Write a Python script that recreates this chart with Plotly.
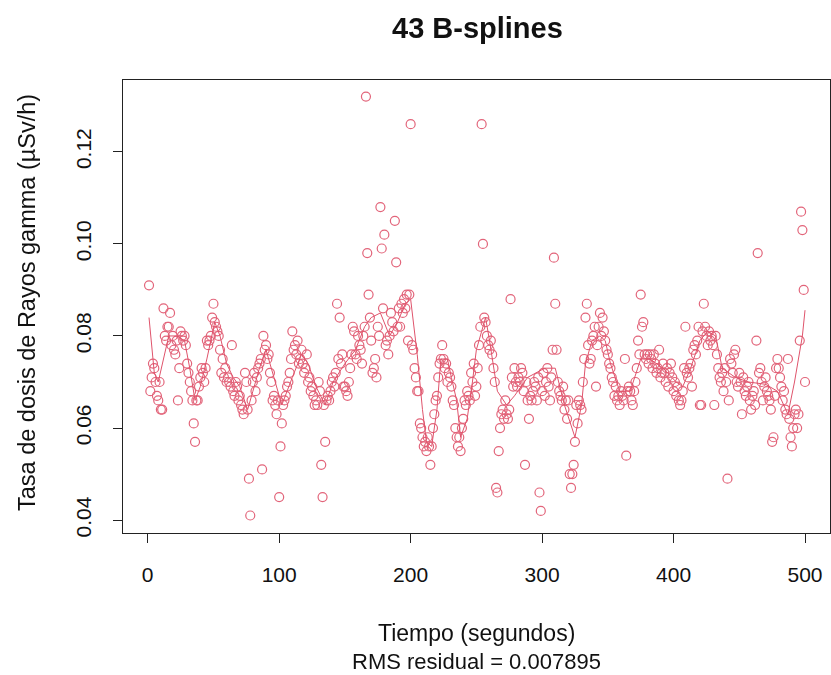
import plotly.graph_objects as go

# ---- data ----
tiempo = list(range(1, 501))
tasa = [
    0.091, 0.068, 0.071, 0.074, 0.073, 0.070, 0.067, 0.066, 0.070, 0.064,
    0.064, 0.086, 0.080, 0.079, 0.082, 0.082, 0.085, 0.078, 0.080, 0.077,
    0.076, 0.079, 0.066, 0.073, 0.081, 0.080, 0.079, 0.080, 0.078, 0.074,
    0.072, 0.070, 0.068, 0.066, 0.061, 0.057, 0.066, 0.066, 0.069, 0.071,
    0.073, 0.072, 0.070, 0.073, 0.079, 0.078, 0.079, 0.080, 0.084, 0.087,
    0.083, 0.082, 0.081, 0.080, 0.077, 0.072, 0.075, 0.071, 0.073, 0.070,
    0.071, 0.070, 0.069, 0.078, 0.068, 0.067, 0.070, 0.069, 0.066, 0.067,
    0.065, 0.064, 0.063, 0.072, 0.070, 0.064, 0.049, 0.041, 0.066, 0.070,
    0.072, 0.068, 0.071, 0.073, 0.074, 0.075, 0.051, 0.080, 0.077, 0.078,
    0.075, 0.076, 0.072, 0.070, 0.066, 0.067, 0.065, 0.063, 0.066, 0.045,
    0.056, 0.061, 0.065, 0.066, 0.067, 0.069, 0.070, 0.072, 0.075, 0.081,
    0.077, 0.078, 0.076, 0.079, 0.074, 0.075, 0.077, 0.074, 0.072, 0.073,
    0.076, 0.070, 0.071, 0.068, 0.069, 0.067, 0.065, 0.066, 0.065, 0.070,
    0.068, 0.052, 0.045, 0.065, 0.057, 0.066, 0.067, 0.066, 0.068, 0.070,
    0.071, 0.069, 0.072, 0.087, 0.075, 0.084, 0.074, 0.076, 0.069, 0.069,
    0.068, 0.067, 0.070, 0.073, 0.076, 0.082, 0.081, 0.076, 0.075, 0.080,
    0.078, 0.077, 0.074, 0.080, 0.082, 0.132, 0.098, 0.089, 0.084, 0.079,
    0.072, 0.073, 0.075, 0.071, 0.082, 0.080, 0.108, 0.099, 0.086, 0.102,
    0.078, 0.079, 0.076, 0.080, 0.085, 0.083, 0.081, 0.105, 0.096, 0.082,
    0.086, 0.082, 0.087, 0.085, 0.088, 0.086, 0.089, 0.079, 0.089, 0.126,
    0.078, 0.077, 0.073, 0.071, 0.068, 0.068, 0.061, 0.060, 0.058, 0.056,
    0.057, 0.055, 0.058, 0.056, 0.052, 0.056, 0.060, 0.063, 0.066, 0.067,
    0.071, 0.074, 0.075, 0.078, 0.075, 0.073, 0.074, 0.070, 0.072, 0.071,
    0.069, 0.066, 0.065, 0.060, 0.058, 0.056, 0.058, 0.055, 0.060, 0.062,
    0.066, 0.065, 0.068, 0.067, 0.066, 0.072, 0.070, 0.074, 0.067, 0.069,
    0.073, 0.078, 0.082, 0.126, 0.100, 0.084, 0.083, 0.080, 0.078, 0.077,
    0.079, 0.076, 0.073, 0.070, 0.047, 0.046, 0.055, 0.060, 0.063, 0.064,
    0.062, 0.066, 0.063, 0.062, 0.064, 0.088, 0.071, 0.069, 0.073, 0.070,
    0.069, 0.071, 0.070, 0.073, 0.072, 0.068, 0.052, 0.070, 0.066, 0.062,
    0.067, 0.066, 0.068, 0.070, 0.069, 0.066, 0.071, 0.046, 0.042, 0.068,
    0.072, 0.067, 0.070, 0.073, 0.069, 0.066, 0.071, 0.077, 0.097, 0.087,
    0.077, 0.070, 0.068, 0.067, 0.066, 0.069, 0.064, 0.066, 0.062, 0.066,
    0.050, 0.047, 0.050, 0.052, 0.057, 0.065, 0.061, 0.066, 0.065, 0.064,
    0.070, 0.075, 0.084, 0.087, 0.078, 0.074, 0.075, 0.079, 0.080, 0.082,
    0.069, 0.078, 0.082, 0.085, 0.080, 0.084, 0.081, 0.079, 0.077, 0.076,
    0.074, 0.073, 0.071, 0.070, 0.067, 0.069, 0.066, 0.067, 0.065, 0.068,
    0.067, 0.066, 0.075, 0.054, 0.068, 0.069, 0.068, 0.066, 0.065, 0.068,
    0.070, 0.073, 0.079, 0.076, 0.089, 0.082, 0.083, 0.076, 0.075, 0.076,
    0.074, 0.076, 0.075, 0.073, 0.076, 0.074, 0.072, 0.073, 0.077, 0.071,
    0.072, 0.074, 0.072, 0.070, 0.073, 0.069, 0.072, 0.074, 0.071, 0.068,
    0.070, 0.067, 0.069, 0.066, 0.065, 0.066, 0.068, 0.073, 0.082, 0.072,
    0.071, 0.073, 0.074, 0.069, 0.077, 0.078, 0.076, 0.079, 0.082, 0.065,
    0.065, 0.081, 0.087, 0.082, 0.080, 0.078, 0.081, 0.079, 0.080, 0.078,
    0.065, 0.080, 0.076, 0.073, 0.071, 0.070, 0.072, 0.068, 0.073, 0.070,
    0.049, 0.066, 0.075, 0.074, 0.072, 0.076, 0.077, 0.070, 0.069, 0.072,
    0.070, 0.063, 0.071, 0.068, 0.067, 0.069, 0.070, 0.066, 0.064, 0.067,
    0.068, 0.065, 0.079, 0.098, 0.072, 0.073, 0.070, 0.066, 0.069, 0.071,
    0.068, 0.067, 0.066, 0.064, 0.057, 0.058, 0.067, 0.073, 0.075, 0.073,
    0.071, 0.069, 0.066, 0.068, 0.064, 0.063, 0.075, 0.062, 0.058, 0.056,
    0.060, 0.063, 0.064, 0.060, 0.063, 0.079, 0.107, 0.103, 0.090, 0.070,
]

# fitted B-spline curve
ajuste_t = [1, 5, 8, 12, 16, 22, 28, 32, 36, 40, 45, 51, 55, 60, 65, 70, 76, 80,
            85, 90, 96, 102, 110, 117, 122, 128, 135, 141, 150, 158, 165, 170, 177,
            184, 190, 196, 200, 205, 209, 212, 216, 220, 223, 228, 231, 235, 238,
            243, 247, 250, 254, 257, 260, 266, 273, 279, 289, 302, 310, 317, 325,
            330, 333, 338, 344, 348, 352, 359, 367, 375, 382, 392, 402, 407, 413,
            420, 426, 432, 437, 447, 457, 470, 479, 487, 492, 498, 500]
ajuste_y = [0.084, 0.072, 0.070, 0.075, 0.080, 0.080, 0.079, 0.073, 0.066, 0.069,
            0.075, 0.083, 0.080, 0.074, 0.071, 0.069, 0.064, 0.068, 0.073, 0.077,
            0.071, 0.065, 0.071, 0.076, 0.074, 0.069, 0.065, 0.070, 0.074, 0.077,
            0.082, 0.084, 0.085, 0.080, 0.083, 0.087, 0.088, 0.076, 0.064, 0.057,
            0.056, 0.064, 0.075, 0.075, 0.071, 0.066, 0.058, 0.062, 0.070, 0.077,
            0.081, 0.084, 0.079, 0.068, 0.065, 0.067, 0.071, 0.073, 0.073, 0.065,
            0.058, 0.065, 0.074, 0.079, 0.080, 0.079, 0.074, 0.068, 0.068, 0.075,
            0.075, 0.073, 0.070, 0.069, 0.073, 0.079, 0.081, 0.080, 0.073, 0.071,
            0.070, 0.0695, 0.068, 0.063, 0.070, 0.080, 0.0856]

x_ticks = [0, 100, 200, 300, 400, 500]
y_ticks = [0.04, 0.06, 0.08, 0.10, 0.12]
y_tick_labels = ["0.04", "0.06", "0.08", "0.10", "0.12"]

titulo = "43 B-splines"
x_titulo = "Tiempo (segundos)"
rms_texto = "RMS residual = 0.007895"
y_titulo = "Tasa de dosis de Rayos gamma (µSv/h)"

color = "#DF536B"
font_fam = "Liberation Sans, Arial, sans-serif"

# plot box in pixels
L, R, T, B = 123, 830, 80, 533
W, H = R - L, B - T

fig = go.Figure()
fig.add_trace(go.Scatter(
    x=tiempo, y=tasa, mode="markers",
    marker=dict(symbol="circle-open", size=9, color=color, line=dict(width=1.2, color=color)),
    opacity=0.9, showlegend=False, hoverinfo="skip"))
fig.add_trace(go.Scatter(
    x=ajuste_t, y=ajuste_y, mode="lines",
    line=dict(color=color, width=1),
    showlegend=False, hoverinfo="skip"))

fig.update_layout(
    width=831, height=675,
    margin=dict(l=L, r=831 - R, t=T, b=675 - B),
    paper_bgcolor="white", plot_bgcolor="white",
    font=dict(family=font_fam, size=21, color="#111"),
    xaxis=dict(range=[-18.8, 519.0], tickvals=x_ticks, ticks="outside", ticklen=9,
               tickwidth=1, tickcolor="#222", showline=True, linecolor="#222", linewidth=1,
               mirror=True, showgrid=False, zeroline=False, ticklabelstandoff=14,
               tickfont=dict(size=21, color="#111")),
    yaxis=dict(range=[0.0372, 0.1356], tickvals=y_ticks, ticktext=y_tick_labels,
               ticks="outside", ticklen=9, tickwidth=1, tickcolor="#222", showline=True,
               linecolor="#222", linewidth=1, mirror=True, showgrid=False, zeroline=False,
               tickangle=-90, ticklabelstandoff=14, tickfont=dict(size=21, color="#111")),
    annotations=[
        dict(text="<b>" + titulo + "</b>", x=(477 - L) / W, y=(B - 28) / H,
             xref="paper", yref="paper", showarrow=False, xanchor="center", yanchor="middle",
             font=dict(size=29, color="#111")),
        dict(text=x_titulo, x=(476 - L) / W, y=-(633 - B) / H, xref="paper",
             yref="paper", showarrow=False, xanchor="center", yanchor="middle",
             font=dict(size=23, color="#111")),
        dict(text=rms_texto, x=(476 - L) / W, y=-(661 - B) / H, xref="paper",
             yref="paper", showarrow=False, xanchor="center", yanchor="middle",
             font=dict(size=22, color="#111")),
        dict(text=y_titulo, x=-(L - 27) / W, y=(B - 303) / H, xref="paper",
             yref="paper", showarrow=False, xanchor="center", yanchor="middle",
             textangle=-90, font=dict(size=23.5, color="#111")),
    ],
)

fig.write_html("out.html")
